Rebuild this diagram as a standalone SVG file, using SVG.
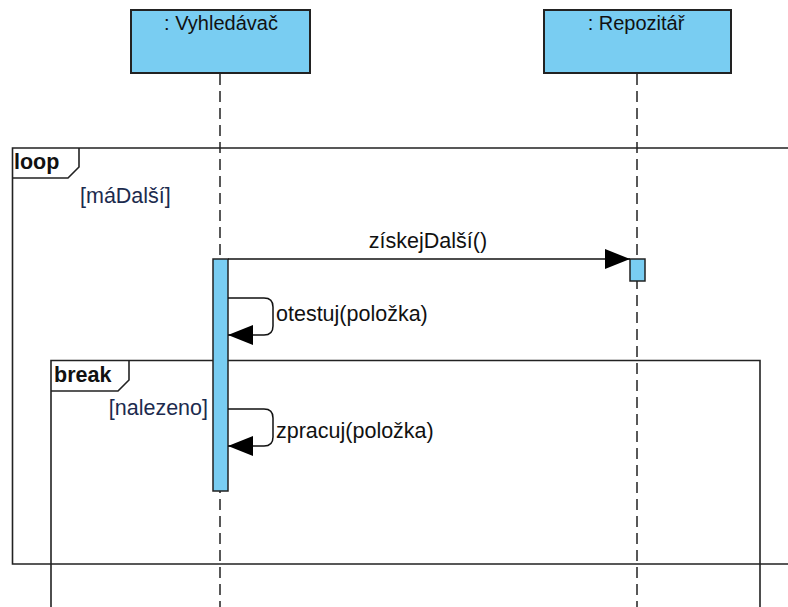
<svg xmlns="http://www.w3.org/2000/svg" width="788" height="607" viewBox="0 0 788 607">
  <style>
    .lbl { font-family: "Liberation Sans", Arial, sans-serif; font-size: 21.5px; fill: #111; }
    .head-lbl { font-family: "Liberation Sans", Arial, sans-serif; font-size: 20px; fill: #111; }
    .guard { font-family: "Liberation Sans", Arial, sans-serif; font-size: 21.5px; fill: #1c2b4e; }
    .kw { font-family: "Liberation Sans", Arial, sans-serif; font-size: 21.5px; font-weight: bold; fill: #111; }
    .head { fill: #79cdf2; stroke: #222; stroke-width: 2; }
    .act { fill: #79cdf2; stroke: #222; stroke-width: 1.5; }
    .life { stroke: #222; stroke-width: 1.5; stroke-dasharray: 11 6; fill: none; }
    .frame { fill: none; stroke: #222; stroke-width: 1.6; }
    .msg { stroke: #111; stroke-width: 1.5; fill: none; }
  </style>
  <defs>
    <marker id="fill-arrow" markerWidth="26" markerHeight="22" refX="25" refY="11" orient="auto" markerUnits="userSpaceOnUse">
      <path d="M0,1 L25,11 L0,21 Z" fill="#000"/>
    </marker>
  </defs>
  <rect width="788" height="607" fill="#fff"/>

  <!-- combined fragments -->
  <g id="frame-loop">
    <path class="frame" d="M790,148 H12.5 V564 H790"/>
    <path class="frame" d="M12.5,178 H68 L79,167 V148"/>
    <text class="kw" x="14" y="169">loop</text>
    <text class="guard" x="80" y="203">[máDalší]</text>
  </g>
  <g id="frame-break">
    <path class="frame" d="M51,610 V360.5 H760 V610"/>
    <path class="frame" d="M51,391 H118 L129,380 V360.5"/>
    <text class="kw" x="54" y="382">break</text>
    <text class="guard" x="208" y="415" text-anchor="end">[nalezeno]</text>
  </g>

  <!-- lifelines -->
  <g id="vyhledavac">
    <line class="life" x1="220" y1="74" x2="220" y2="607"/>
    <rect class="head" x="131" y="10" width="179" height="63"/>
    <text class="head-lbl" x="221" y="30" text-anchor="middle">: Vyhledávač</text>
    <rect class="act" x="213" y="259" width="15" height="232"/>
  </g>
  <g id="repozitar">
    <line class="life" x1="637" y1="74" x2="637" y2="607"/>
    <rect class="head" x="544" y="10" width="187" height="63"/>
    <text class="head-lbl" x="636" y="30" text-anchor="middle">: Repozitář</text>
    <rect class="act" x="630" y="259" width="15" height="22"/>
  </g>

  <!-- messages -->
  <g id="connectors">
    <line class="msg" x1="228" y1="259" x2="630" y2="259" marker-end="url(#fill-arrow)"/>
    <text class="lbl" x="428" y="248" text-anchor="middle">získejDalší()</text>

    <path class="msg" d="M228,298 H264 Q273,298 273,307 V326 Q273,335 264,335 H228" marker-end="url(#fill-arrow)"/>
    <text class="lbl" x="276" y="321">otestuj(položka)</text>

    <path class="msg" d="M228,409 H264 Q273,409 273,418 V437 Q273,446 264,446 H228" marker-end="url(#fill-arrow)"/>
    <text class="lbl" x="276" y="438">zpracuj(položka)</text>
  </g>
</svg>
